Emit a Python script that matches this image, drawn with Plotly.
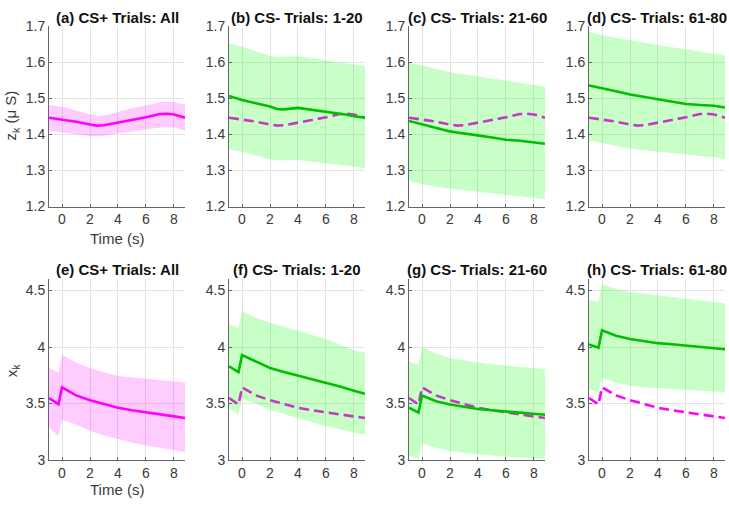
import plotly.graph_objects as go

# ---------------- data ----------------
t_top = [-0.93, 0, 1, 2, 2.5, 3, 4, 5, 6, 7, 7.5, 8, 8.79]
t_bot = [-0.93, -0.25, 0, 1, 2, 3, 4, 5, 6, 7, 8, 8.79]

# top row: z_k
a_mean = [1.446, 1.441, 1.435, 1.427, 1.424, 1.425, 1.432, 1.440, 1.447, 1.456, 1.457, 1.455, 1.446]
a_up   = [1.481, 1.476, 1.466, 1.454, 1.450, 1.452, 1.463, 1.472, 1.480, 1.489, 1.490, 1.489, 1.482]
a_lo   = [1.410, 1.405, 1.400, 1.395, 1.394, 1.395, 1.401, 1.407, 1.413, 1.419, 1.420, 1.419, 1.410]

b_mean = [1.506, 1.495, 1.486, 1.477, 1.470, 1.469, 1.473, 1.468, 1.461, 1.457, 1.454, 1.450, 1.446]
b_up   = [1.651, 1.642, 1.630, 1.617, 1.614, 1.614, 1.616, 1.611, 1.604, 1.598, 1.596, 1.593, 1.590]
b_lo   = [1.358, 1.352, 1.342, 1.331, 1.328, 1.328, 1.329, 1.325, 1.321, 1.316, 1.313, 1.310, 1.307]

c_mean = [1.437, 1.428, 1.417, 1.408, 1.405, 1.403, 1.397, 1.391, 1.385, 1.382, 1.380, 1.379, 1.374]
c_up   = [1.598, 1.591, 1.581, 1.571, 1.568, 1.566, 1.560, 1.555, 1.549, 1.543, 1.540, 1.537, 1.532]
c_lo   = [1.271, 1.262, 1.255, 1.249, 1.247, 1.245, 1.240, 1.236, 1.233, 1.229, 1.226, 1.224, 1.221]

d_mean = [1.535, 1.528, 1.519, 1.510, 1.507, 1.504, 1.497, 1.490, 1.484, 1.481, 1.480, 1.479, 1.474]
d_up   = [1.683, 1.674, 1.667, 1.660, 1.656, 1.653, 1.647, 1.641, 1.635, 1.629, 1.627, 1.624, 1.618]
d_lo   = [1.383, 1.376, 1.368, 1.361, 1.358, 1.355, 1.350, 1.346, 1.343, 1.340, 1.338, 1.337, 1.331]

# bottom row: x_k
e_mean = [3.549, 3.492, 3.643, 3.572, 3.529, 3.493, 3.463, 3.440, 3.420, 3.402, 3.386, 3.372]
e_up   = [3.814, 3.777, 3.929, 3.863, 3.814, 3.775, 3.743, 3.730, 3.720, 3.705, 3.692, 3.686]
e_lo   = [3.286, 3.214, 3.357, 3.314, 3.257, 3.218, 3.186, 3.155, 3.129, 3.106, 3.086, 3.071]

f_mean = [3.829, 3.777, 3.929, 3.871, 3.814, 3.780, 3.749, 3.717, 3.686, 3.650, 3.614, 3.586]
f_up   = [4.206, 4.163, 4.320, 4.257, 4.214, 4.177, 4.143, 4.107, 4.071, 4.021, 3.971, 3.949]
f_lo   = [3.457, 3.406, 3.543, 3.500, 3.443, 3.405, 3.372, 3.336, 3.300, 3.270, 3.243, 3.223]

g_mean = [3.463, 3.420, 3.571, 3.520, 3.492, 3.470, 3.452, 3.440, 3.429, 3.419, 3.409, 3.400]
g_up   = [3.871, 3.843, 4.000, 3.943, 3.900, 3.880, 3.863, 3.848, 3.834, 3.824, 3.814, 3.806]
g_lo   = [3.043, 3.006, 3.149, 3.109, 3.080, 3.064, 3.051, 3.040, 3.029, 3.021, 3.014, 3.010]

h_mean = [4.023, 3.994, 4.149, 4.100, 4.071, 4.050, 4.034, 4.024, 4.014, 4.004, 3.994, 3.980]
h_up   = [4.414, 4.400, 4.557, 4.514, 4.486, 4.471, 4.457, 4.443, 4.429, 4.414, 4.400, 4.386]
h_lo   = [3.629, 3.600, 3.729, 3.686, 3.657, 3.645, 3.634, 3.627, 3.620, 3.613, 3.606, 3.600]

titles = ["(a) CS+ Trials: All", "(b) CS- Trials: 1-20", "(c) CS- Trials: 21-60", "(d) CS- Trials: 61-80",
          "(e) CS+ Trials: All", "(f) CS- Trials: 1-20", "(g) CS- Trials: 21-60", "(h) CS- Trials: 61-80"]
x_ticks = [0, 2, 4, 6, 8]
top_yticks = [1.2, 1.3, 1.4, 1.5, 1.6, 1.7]
bot_yticks = [3, 3.5, 4, 4.5]
bot_yticktext = ["3", "3.5", "4", "4.5"]
top_yrange = [1.2, 1.7]
bot_yrange = [3.0, 4.6]

# ---------------- style ----------------
W, H = 729, 509
MAG = "#ff00ff"
MAG_BAND = "rgba(255,0,255,0.2)"
GRN = "rgb(0,190,0)"
GRN_BAND = "rgba(0,255,0,0.22)"
FONT = "Liberation Sans, Arial, sans-serif"
col_px = [(49, 185), (229, 365), (409, 545), (589, 725)]
row_px = [(18.5, 205), (280, 466.7)]

fig = go.Figure()

def band(t, up, lo, color, xa, ya):
    fig.add_trace(go.Scatter(x=list(t) + list(t)[::-1], y=list(up) + list(lo)[::-1],
                             fill="toself", fillcolor=color, line=dict(width=0),
                             mode="lines", hoverinfo="skip", showlegend=False,
                             xaxis=xa, yaxis=ya))

def line(t, y, color, xa, ya, dash="solid"):
    fig.add_trace(go.Scatter(x=t, y=y, mode="lines",
                             line=dict(color=color, width=2.6, dash=dash),
                             showlegend=False, xaxis=xa, yaxis=ya))

panels = [
    (0, 0, t_top, a_mean, a_up, a_lo, None),
    (0, 1, t_top, b_mean, b_up, b_lo, a_mean),
    (0, 2, t_top, c_mean, c_up, c_lo, a_mean),
    (0, 3, t_top, d_mean, d_up, d_lo, a_mean),
    (1, 0, t_bot, e_mean, e_up, e_lo, None),
    (1, 1, t_bot, f_mean, f_up, f_lo, e_mean),
    (1, 2, t_bot, g_mean, g_up, g_lo, e_mean),
    (1, 3, t_bot, h_mean, h_up, h_lo, e_mean),
]

tickfont = dict(family=FONT, size=14, color="#3a3a3a")
annotations = []
for i, (r, c, t, m, up, lo, ref) in enumerate(panels):
    n = i + 1
    xa = "x" if n == 1 else f"x{n}"
    ya = "y" if n == 1 else f"y{n}"
    if ref is None:
        band(t, up, lo, MAG_BAND, xa, ya)
        line(t, m, MAG, xa, ya)
    else:
        line(t, ref, MAG, xa, ya, dash="10px,5px")
        band(t, up, lo, GRN_BAND, xa, ya)
        line(t, m, GRN, xa, ya)

    x0, x1 = col_px[c]
    y0, y1 = row_px[r]
    xkey = "xaxis" if n == 1 else f"xaxis{n}"
    ykey = "yaxis" if n == 1 else f"yaxis{n}"
    fig.layout[xkey] = dict(domain=[x0 / W, x1 / W], anchor=ya, range=[t_top[0], t_top[-1]],
                            tickvals=x_ticks, showgrid=True, gridcolor="#e3e3e3", gridwidth=1,
                            showline=True, linecolor="#666", linewidth=1, zeroline=False,
                            ticks="inside", ticklen=3, tickcolor="#666", tickfont=tickfont)
    fig.layout[ykey] = dict(domain=[1 - y1 / H, 1 - y0 / H], anchor=xa,
                            range=top_yrange if r == 0 else bot_yrange,
                            tickvals=top_yticks if r == 0 else bot_yticks,
                            ticktext=[f"{v:.1f}" for v in top_yticks] if r == 0 else bot_yticktext,
                            showgrid=True, gridcolor="#e3e3e3", gridwidth=1,
                            showline=True, linecolor="#666", linewidth=1, zeroline=False,
                            ticks="inside", ticklen=3, tickcolor="#666", tickfont=tickfont)
    annotations.append(dict(text=f"<b>{titles[i]}</b>", x=(x0 + x1) / 2 / W,
                            y=1 - (10 if r == 0 else 270) / H, xref="paper", yref="paper",
                            showarrow=False, xanchor="center", yanchor="middle",
                            font=dict(family=FONT, size=15, color="#111")))

labfont = dict(family=FONT, size=15, color="#3a3a3a")
annotations += [
    dict(text="Time (s)", x=117 / W, y=1 - 238 / H, xref="paper", yref="paper", showarrow=False,
         xanchor="center", yanchor="middle", font=labfont),
    dict(text="Time (s)", x=117 / W, y=1 - 497 / H, xref="paper", yref="paper", showarrow=False,
         xanchor="center", yanchor="middle", font=labfont),
    dict(text="z<sub>k</sub> (μ S)", x=12 / W, y=1 - 111 / H, xref="paper", yref="paper",
         showarrow=False, textangle=-90, xanchor="center", yanchor="middle", font=labfont),
    dict(text="x<sub>k</sub>", x=12 / W, y=1 - 374 / H, xref="paper", yref="paper",
         showarrow=False, textangle=-90, xanchor="center", yanchor="middle", font=labfont),
]

fig.update_layout(width=W, height=H, margin=dict(l=0, r=0, t=0, b=0),
                  paper_bgcolor="white", plot_bgcolor="white",
                  annotations=annotations, showlegend=False)

fig.write_html("out.html", config={"displayModeBar": False},
               post_script="document.body.style.margin='0';document.body.style.overflow='hidden';")
